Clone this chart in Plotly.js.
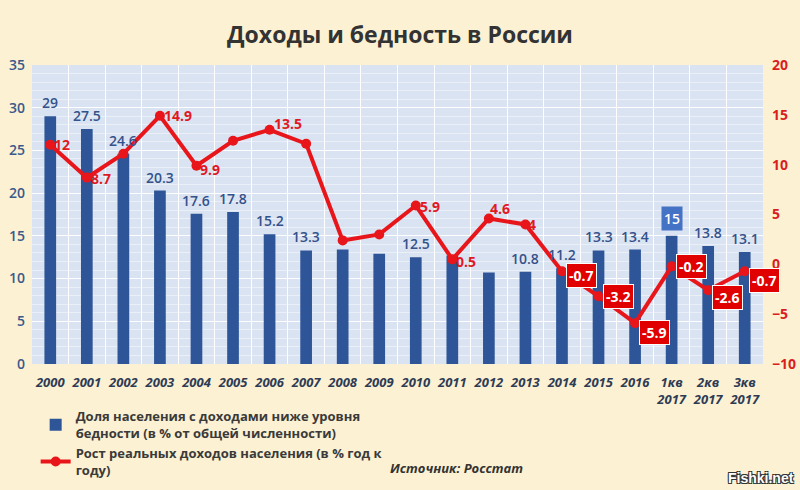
<!DOCTYPE html>
<html>
<head>
<meta charset="utf-8">
<script src="https://cdn.plot.ly/plotly-3.0.1.min.js"></script>
<style>html,body{margin:0;padding:0;background:#FCF1D2;}#chart{width:800px;height:490px;}</style>
</head>
<body>
<div id="chart"></div>
<script>
// ---- data ----
const categories = ["2000","2001","2002","2003","2004","2005","2006","2007","2008","2009","2010","2011","2012","2013","2014","2015","2016","1кв<br>2017","2кв<br>2017","3кв<br>2017"];
const povertyShare = [29, 27.5, 24.6, 20.3, 17.6, 17.8, 15.2, 13.3, 13.4, 12.9, 12.5, 12.7, 10.7, 10.8, 11.2, 13.3, 13.4, 15, 13.8, 13.1];
const incomeGrowth = [12, 8.7, 11.1, 14.9, 9.9, 12.4, 13.5, 12.1, 2.4, 3.0, 5.9, 0.5, 4.6, 4, -0.7, -3.2, -5.9, -0.2, -2.6, -0.7];
const barLabelHidden = ["2008", "2009", "2011", "2012"];
const lineLabelHidden = ["2002", "2005", "2007", "2008", "2009"];
const highlightBar = "1кв<br>2017";
const seriesNames = ["Доля населения с доходами ниже уровня<br>бедности (в % от общей численности)", "Рост реальных доходов населения (в % год к<br>году)"];
const titleText = "Доходы и бедность в России";
const sourceText = "Источник: Росстат";

// ---- style (label offsets in pixels) ----
const lineLabelStyle = {
  "2000": [4, 0], "2001": [4, -1], "2003": [4, 0], "2004": [4, -4], "2006": [4, 6],
  "2010": [4, -1], "2011": [4, -2], "2012": [1, 10], "2013": [3, 0],
  "2014": [4, -4], "2015": [4, 0], "2016": [4, -9], "1кв<br>2017": [4, 0],
  "2кв<br>2017": [4, -7], "3кв<br>2017": [4, -9]
};

const BLUE = "#2E5597", RED = "#E8161B", FONT = "Open Sans, Noto Sans, sans-serif";
const idx = categories.map((c, i) => i);

const annotations = [];
categories.forEach((c, i) => {
  if (!barLabelHidden.includes(c)) {
    const hl = c === highlightBar;
    annotations.push({
      x: i, y: povertyShare[i], xref: "x", yref: "y", text: String(povertyShare[i]),
      showarrow: false, yanchor: "bottom", yshift: hl ? 5 : 3,
      font: {family: FONT, size: 14, color: hl ? "#ffffff" : "#34528A", weight: 600},
      bgcolor: hl ? "#4472C4" : "rgba(0,0,0,0)", borderpad: hl ? 2 : 0
    });
  }
  if (!lineLabelHidden.includes(c)) {
    const v = incomeGrowth[i];
    const neg = v < 0;
    const st = lineLabelStyle[c] || [4, 0];
    annotations.push({
      x: i, y: v, xref: "x", yref: "y2", text: String(v), showarrow: false,
      xanchor: "left", yanchor: "middle", xshift: st[0], yshift: st[1],
      font: {family: FONT, size: 14, color: neg ? "#ffffff" : "#E0191E", weight: 700},
      bgcolor: neg ? "#E00000" : "rgba(0,0,0,0)",
      bordercolor: neg ? "#ffffff" : "rgba(0,0,0,0)", borderwidth: neg ? 1 : 0, borderpad: neg ? 2 : 0
    });
  }
});

annotations.push({
  xref: "paper", yref: "paper", x: 0.675, y: -0.348, yanchor: "middle", text: sourceText, showarrow: false,
  font: {family: FONT, size: 13, color: "#333333", weight: 700, style: "italic"}
});
annotations.push({
  xref: "paper", yref: "paper", x: 1.045, y: -0.381, yanchor: "middle", text: "Fishki.net", showarrow: false, xanchor: "right",
  font: {family: "Liberation Sans, Arial, sans-serif", size: 14, color: "#ffffff", weight: 700,
         shadow: "1px 1px 0 #333, -1px -1px 0 #333, 1px -1px 0 #333, -1px 1px 0 #333"}
});

const traces = [
  {
    type: "bar", x: idx, y: povertyShare, name: seriesNames[0], width: 0.32,
    marker: {color: BLUE}, yaxis: "y", hoverinfo: "skip"
  },
  {
    type: "scatter", mode: "lines+markers", x: idx, y: incomeGrowth, name: seriesNames[1],
    line: {color: RED, width: 4}, marker: {color: RED, size: 10}, yaxis: "y2", hoverinfo: "skip"
  }
];

const layout = {
  width: 800, height: 490,
  margin: {l: 32, r: 37, t: 65, b: 126, autoexpand: false},
  paper_bgcolor: "#FCF1D2", plot_bgcolor: "#DAE3F2",
  font: {family: FONT},
  title: {text: titleText, x: 0.5, xanchor: "center", y: 0.928, yanchor: "middle",
          font: {family: FONT, size: 23, color: "#333333", weight: 700}},
  xaxis: {
    tickmode: "array", tickvals: idx, ticktext: categories, range: [-0.5, categories.length - 0.5],
    showgrid: false, zeroline: false, showline: false, ticks: "", ticklabelstandoff: 9,
    tickfont: {family: FONT, size: 13, color: "#2E3B55", weight: 700, style: "italic"},
    minor: {tickmode: "linear", tick0: -0.5, dtick: 1, showgrid: true, gridcolor: "#ffffff", gridwidth: 1}
  },
  yaxis: {
    range: [0, 35], dtick: 5, showgrid: true, gridcolor: "#ffffff", gridwidth: 1, zeroline: false,
    ticklabelstandoff: 6,
    tickfont: {family: FONT, size: 14, color: "#3A5A8C", weight: 600},
    minor: {dtick: 1, showgrid: true, gridcolor: "rgba(255,255,255,0.45)", gridwidth: 1}
  },
  yaxis2: {
    range: [-10, 20], dtick: 5, overlaying: "y", side: "right", showgrid: false, zeroline: false,
    ticklabelstandoff: 8,
    tickfont: {family: FONT, size: 14, color: "#D91E1E", weight: 700}
  },
  legend: {
    x: 0.005, y: -0.125, xanchor: "left", yanchor: "top", orientation: "v",
    bgcolor: "rgba(0,0,0,0)", tracegroupgap: 0, itemwidth: 30,
    font: {family: FONT, size: 13, color: "#3A3A3A", weight: 700}
  },
  showlegend: true,
  bargap: 0.68,
  annotations: annotations
};

Plotly.newPlot("chart", traces, layout, {displayModeBar: false, staticPlot: true});
</script>
</body>
</html>
